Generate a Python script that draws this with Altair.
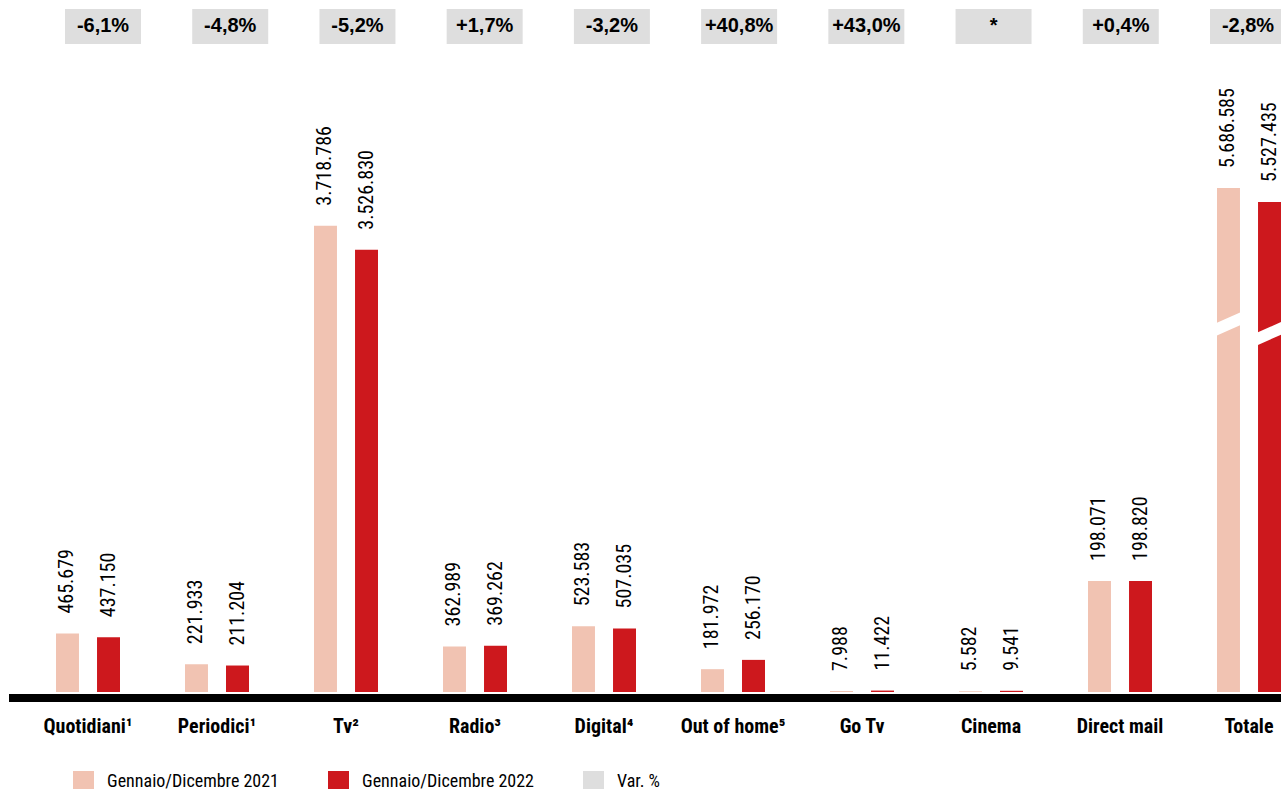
import altair as alt
import pandas as pd

# ---- data ----
categories = ["Quotidiani¹", "Periodici¹", "Tv²", "Radio³", "Digital⁴",
              "Out of home⁵", "Go Tv", "Cinema", "Direct mail", "Totale"]
series = ["Gennaio/Dicembre 2021", "Gennaio/Dicembre 2022"]
values_2021 = [465679, 221933, 3718786, 362989, 523583, 181972, 7988, 5582, 198071, 5686585]
values_2022 = [437150, 211204, 3526830, 369262, 507035, 256170, 11422, 9541, 198820, 5527435]
# heights as drawn in the picture (Direct mail drawn taller, Totale drawn broken/truncated)
drawn_2021 = [465679, 221933, 3718786, 362989, 523583, 181972, 7988, 5582, 886000, 4020000]
drawn_2022 = [437150, 211204, 3526830, 369262, 507035, 256170, 11422, 9541, 886000, 3908000]
var_pct = ["-6,1%", "-4,8%", "-5,2%", "+1,7%", "-3,2%", "+40,8%", "+43,0%", "*", "+0,4%", "-2,8%"]
# position of the axis-break slash on the Totale bars (in drawn units)
break_2021 = 2934600
break_2022 = 2858900

PINK = "#f1c3b2"
RED = "#cd181d"
GREY = "#dedede"
COND = "Roboto Condensed, DejaVu Sans Condensed, sans-serif"
SANS = "Liberation Sans, Arial, sans-serif"

def fmt(v):
    return f"{v:,}".replace(",", ".")

rows = []
for i, c in enumerate(categories):
    rows.append(dict(cat=c, serie=series[0], value=values_2021[i], drawn=drawn_2021[i], label=fmt(values_2021[i])))
    rows.append(dict(cat=c, serie=series[1], value=values_2022[i], drawn=drawn_2022[i], label=fmt(values_2022[i])))
df = pd.DataFrame(rows)
df_break = pd.DataFrame([dict(cat="Totale", serie=series[0], brk=break_2021),
                         dict(cat="Totale", serie=series[1], brk=break_2022)])
df_cat = pd.DataFrame(dict(cat=categories))
df_var = pd.DataFrame(dict(cat=categories, var=var_pct, serie=["Var. %"] * len(categories)))

W, H = 1225, 627
xscale = alt.Scale(type="band", domain=categories, paddingInner=0.5039, paddingOuter=0)
offscale = alt.Scale(domain=series, paddingInner=0.44, paddingOuter=0)
yscale = alt.Scale(domain=[0, 5000000], nice=False, zero=True)
cscale = alt.Scale(domain=series + ["Var. %"], range=[PINK, RED, GREY])

X = alt.X("cat:N", sort=categories, scale=xscale, axis=None)
XO = alt.XOffset("serie:N", scale=offscale, sort=series)
Y = alt.Y("drawn:Q", scale=yscale, axis=None)

legend = alt.Legend(orient="none", legendX=17, legendY=706, direction="horizontal", title=None,
                    symbolType="square", symbolSize=441, symbolStrokeWidth=0, symbolOpacity=1,
                    labelFont=COND, labelFontSize=18, labelColor="#000000", labelOffset=13,
                    columnPadding=49, labelLimit=400, padding=0)

bars = alt.Chart(df).mark_bar().encode(
    x=X, xOffset=XO, y=Y,
    color=alt.Color("serie:N", scale=cscale, legend=legend),
)

labels = alt.Chart(df).mark_text(angle=270, align="left", baseline="middle", dx=20, dy=0,
                                 font=COND, fontSize=20, color="#000000").encode(
    x=X, xOffset=XO, y=Y, text="label:N"
)

slash = "M-1.25,0L1.25,-1.1L1.25,0L-1.25,1.1Z"
breaks = alt.Chart(df_break).mark_point(shape=slash, filled=True, size=529, color="white",
                                        opacity=1, strokeWidth=0).encode(
    x=X, xOffset=XO, y=alt.Y("brk:Q", scale=yscale, axis=None)
)

catlabels = alt.Chart(df_cat).mark_text(font=COND, fontSize=20, fontWeight="bold",
                                        baseline="alphabetic", align="center", color="#000000").encode(
    x=X, y=alt.value(668), text="cat:N"
)

baseline = alt.Chart(df_cat).mark_rule(color="black", strokeWidth=8, strokeCap="butt").encode(
    x=alt.value(-47), x2=alt.value(W), y=alt.value(H + 6)
)

box_x = alt.X("cat:N", sort=categories, axis=None,
              scale=alt.Scale(type="point", domain=categories, range=[47, 1192], padding=0))
boxes = alt.Chart(df_var).mark_rect(width=76).encode(
    x=box_x, y=alt.value(-56), y2=alt.value(-21),
    color=alt.Color("serie:N", scale=cscale, legend=legend),
)
boxtext = alt.Chart(df_var).mark_text(font=SANS, fontSize=20, fontWeight="bold",
                                      baseline="middle", align="center", color="#000000").encode(
    x=box_x, y=alt.value(-39), text="var:N"
)

chart = alt.layer(bars, labels, breaks, catlabels, baseline, boxes, boxtext).resolve_scale(
    x="independent"
).properties(
    width=W, height=H,
    padding={"left": 56, "top": 65, "right": 0, "bottom": 97},
    autosize=alt.AutoSizeParams(type="none"),
    background="white",
).configure_view(stroke=None)

chart.save("out.html", embed_options={"renderer": "svg", "actions": False})
